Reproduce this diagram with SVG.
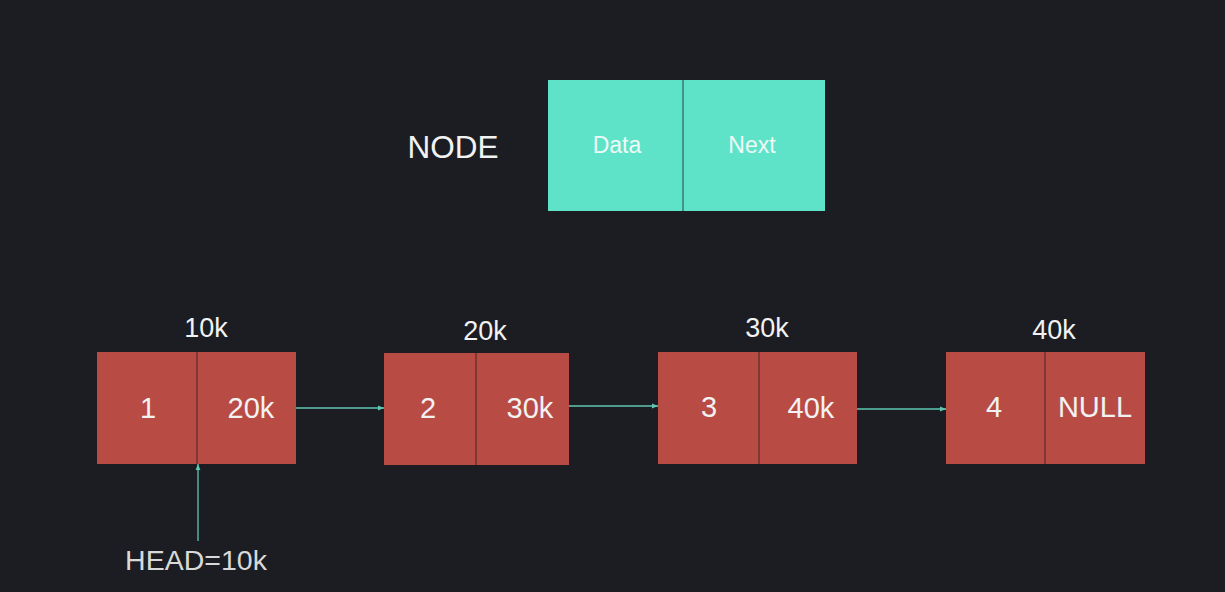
<svg xmlns="http://www.w3.org/2000/svg" width="1225" height="592" viewBox="0 0 1225 592">
<defs>
<style>
.bg{fill:#1b1d22}
.red{fill:#b94b45}
.rdiv{stroke:#6e302c;stroke-width:1.5}
.teal{fill:#5ee3c9}
.tdiv{stroke:#3a7a6b;stroke-width:1.5}
.t{font-family:"Liberation Sans","Open Sans",sans-serif;fill:#f2f2f2;text-anchor:middle}
.lbl{font-size:27px}
.in{font-size:29px}
.ti{font-size:23px;fill:#eefaf6}
.conn{stroke:#5fc7b3;stroke-width:1.3;fill:none}
</style>
<marker id="ah" viewBox="0 0 10 10" refX="10" refY="5" markerWidth="6" markerHeight="6" markerUnits="userSpaceOnUse" orient="auto">
<path d="M0,1 L10,5 L0,9 z" fill="#5fc7b3"/>
</marker>
</defs>
<rect class="bg" x="0" y="0" width="1225" height="592"/>

<g id="node-def">
<text class="t" x="453" y="158" font-size="31.5">NODE</text>
<rect class="teal" x="548" y="80" width="277" height="131"/>
<line class="tdiv" x1="683" y1="80" x2="683" y2="211"/>
<text class="t ti" x="617" y="153">Data</text>
<text class="t ti" x="752" y="153">Next</text>
</g>

<g id="node1">
<text class="t lbl" x="206" y="337">10k</text>
<rect class="red" x="97" y="352" width="199" height="112"/>
<line class="rdiv" x1="197" y1="352" x2="197" y2="464"/>
<text class="t in" x="148" y="418">1</text>
<text class="t in" x="251" y="418">20k</text>
</g>

<g id="node2">
<text class="t lbl" x="485" y="340">20k</text>
<rect class="red" x="384" y="353" width="185" height="112"/>
<line class="rdiv" x1="476" y1="353" x2="476" y2="465"/>
<text class="t in" x="428" y="418">2</text>
<text class="t in" x="530" y="418">30k</text>
</g>

<g id="node3">
<text class="t lbl" x="767" y="337">30k</text>
<rect class="red" x="658" y="352" width="199" height="112"/>
<line class="rdiv" x1="759" y1="352" x2="759" y2="464"/>
<text class="t in" x="709" y="417">3</text>
<text class="t in" x="811" y="418">40k</text>
</g>

<g id="node4">
<text class="t lbl" x="1054" y="339">40k</text>
<rect class="red" x="946" y="352" width="199" height="112"/>
<line class="rdiv" x1="1045" y1="352" x2="1045" y2="464"/>
<text class="t in" x="994" y="417">4</text>
<text class="t in" x="1095" y="417">NULL</text>
</g>

<g id="head">
<text class="t" x="196" y="570" font-size="28.5" style="fill:#d9d9d9">HEAD=10k</text>
</g>

<g id="connectors">
<line class="conn" x1="296" y1="408" x2="384" y2="408" marker-end="url(#ah)"/>
<line class="conn" x1="569" y1="406" x2="658" y2="406" marker-end="url(#ah)"/>
<line class="conn" x1="857" y1="409" x2="946" y2="409" marker-end="url(#ah)"/>
<line class="conn" x1="198" y1="541" x2="198" y2="464" marker-end="url(#ah)"/>
</g>
</svg>
